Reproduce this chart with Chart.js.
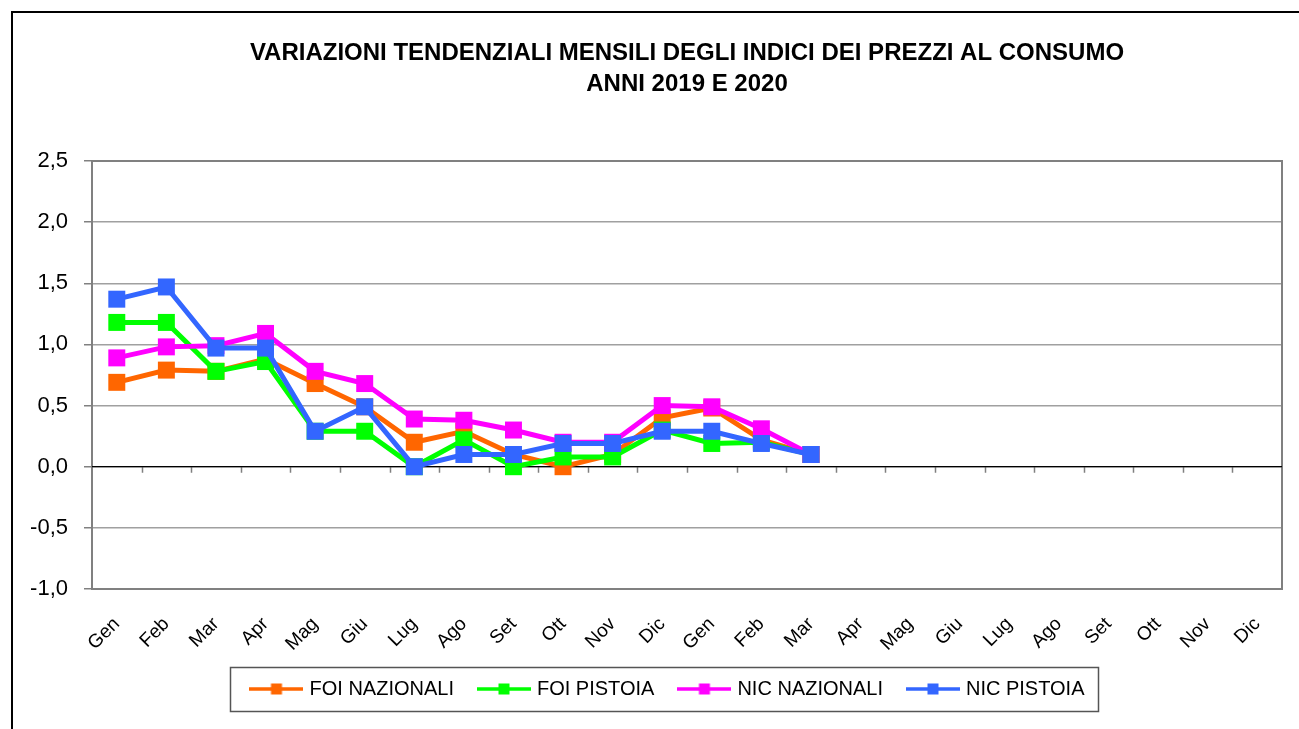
<!DOCTYPE html>
<html>
<head>
<meta charset="utf-8">
<script src="https://cdn.jsdelivr.net/npm/chart.js@4/dist/chart.umd.min.js"></script>
<style>
  html, body { margin: 0; padding: 0; background: #fff; }
  #wrap { position: relative; width: 1299px; height: 729px; overflow: hidden; }
  #frame { position: absolute; left: 11px; top: 11px; width: 1400px; height: 800px; border-top: 2px solid #000; border-left: 2px solid #000; pointer-events: none; }
  canvas { position: absolute; left: 0; top: 0; }
</style>
</head>
<body>
<div id="wrap">
  <canvas id="c" width="1299" height="729"></canvas>
  <div id="frame"></div>
</div>
<script>
const titleLines = ['VARIAZIONI TENDENZIALI MENSILI DEGLI INDICI DEI PREZZI AL CONSUMO', 'ANNI 2019 E 2020'];
const categories = ['Gen','Feb','Mar','Apr','Mag','Giu','Lug','Ago','Set','Ott','Nov','Dic',
                    'Gen','Feb','Mar','Apr','Mag','Giu','Lug','Ago','Set','Ott','Nov','Dic'];
const seriesNames = ['FOI NAZIONALI', 'FOI PISTOIA', 'NIC NAZIONALI', 'NIC PISTOIA'];
const foiNazionali = [0.69, 0.79, 0.78, 0.88, 0.68, 0.49, 0.20, 0.29, 0.10, 0.00, 0.10, 0.40, 0.48, 0.22, 0.10, null, null, null, null, null, null, null, null, null];
const foiPistoia   = [1.18, 1.18, 0.78, 0.86, 0.29, 0.29, 0.00, 0.22, 0.00, 0.08, 0.08, 0.30, 0.19, 0.20, 0.10, null, null, null, null, null, null, null, null, null];
const nicNazionali = [0.89, 0.98, 0.99, 1.09, 0.78, 0.68, 0.39, 0.38, 0.30, 0.20, 0.20, 0.50, 0.49, 0.31, 0.10, null, null, null, null, null, null, null, null, null];
const nicPistoia   = [1.37, 1.47, 0.97, 0.97, 0.29, 0.49, 0.00, 0.10, 0.10, 0.19, 0.19, 0.29, 0.29, 0.19, 0.10, null, null, null, null, null, null, null, null, null];
const yTicks = [-1.0, -0.5, 0.0, 0.5, 1.0, 1.5, 2.0, 2.5];
const seriesColors = ['#FF6600', '#00FF00', '#FF00FF', '#3366FF'];

const FONT = "'Liberation Sans', Arial, sans-serif";

function legendIcon(color) {
  const cv = document.createElement('canvas');
  cv.width = 54; cv.height = 16;
  const g = cv.getContext('2d');
  g.strokeStyle = color; g.lineWidth = 3.5;
  g.beginPath(); g.moveTo(0, 8); g.lineTo(54, 8); g.stroke();
  g.fillStyle = color;
  g.fillRect(21.5, 2.5, 11, 11);
  return cv;
}
const icons = seriesColors.map(legendIcon);

const allSeries = [foiNazionali, foiPistoia, nicNazionali, nicPistoia];
const datasets = allSeries.map((arr, i) => ({
  label: seriesNames[i],
  data: arr,
  borderColor: seriesColors[i],
  backgroundColor: seriesColors[i],
  borderWidth: 5,
  pointStyle: 'rect',
  pointRadius: 12,
  pointHoverRadius: 12,
  pointBorderWidth: 0,
  pointBackgroundColor: seriesColors[i],
  tension: 0,
  spanGaps: false,
  order: 4 - i
}));

const framePlugin = {
  id: 'framePlugin',
  afterLayout(chart) {
    const lg = chart.legend;
    if (lg) { lg.left += 18; lg.right += 18; }
    const tb = chart.titleBlock;
    if (tb) { tb.left += 36; tb.right += 36; }
  },
  beforeDatasetsDraw(chart) {
    const {ctx, chartArea: a, scales: {x, y}} = chart;
    ctx.save();
    const y0 = y.getPixelForValue(0);
    ctx.strokeStyle = '#808080';
    ctx.lineWidth = 1.5;
    ctx.beginPath();
    for (let i = 1; i < categories.length; i++) {
      const px = Math.round(x.getPixelForValue(i - 0.5)) + 0.5;
      ctx.moveTo(px, y0);
      ctx.lineTo(px, y0 + 6);
    }
    ctx.stroke();
    ctx.strokeStyle = '#808080';
    ctx.lineWidth = 2;
    ctx.strokeRect(a.left, a.top, a.right - a.left, a.bottom - a.top);
    ctx.strokeStyle = '#000';
    ctx.lineWidth = 1.2;
    ctx.beginPath();
    ctx.moveTo(a.left, y0); ctx.lineTo(a.right, y0);
    ctx.stroke();
    ctx.restore();
  },
  afterDraw(chart) {
    const lg = chart.legend;
    if (!lg || !lg.legendHitBoxes || !lg.legendHitBoxes.length) return;
    const hb = lg.legendHitBoxes;
    const first = hb[0], last = hb[hb.length - 1];
    const cy = first.top + first.height / 2;
    const left = first.left - 23, right = last.left + last.width + 14;
    const ctx = chart.ctx;
    ctx.save();
    ctx.strokeStyle = '#555';
    ctx.lineWidth = 1.5;
    ctx.strokeRect(Math.round(left) + 0.5, Math.round(cy - 22) + 0.5, Math.round(right - left), 44);
    ctx.restore();
  }
};

new Chart(document.getElementById('c'), {
  type: 'line',
  data: { labels: categories, datasets },
  plugins: [framePlugin],
  options: {
    responsive: false,
    animation: false,
    events: [],
    layout: { padding: { left: 20, right: 17, top: 0, bottom: 20 } },
    plugins: {
      tooltip: { enabled: false },
      title: {
        display: true,
        text: titleLines,
        color: '#000',
        font: { family: FONT, size: 24, weight: 'bold', lineHeight: 1.3 },
        padding: { top: 37.4, bottom: 61.2 }
      },
      legend: {
        position: 'bottom',
        labels: {
          color: '#000',
          font: { family: FONT, size: 20 },
          usePointStyle: true,
          pointStyleWidth: 46,
          padding: 27,
          generateLabels: (chart) => chart.data.datasets.map((ds, i) => ({
            text: ds.label,
            fillStyle: ds.borderColor,
            strokeStyle: ds.borderColor,
            lineWidth: 0,
            pointStyle: icons[i],
            hidden: false,
            datasetIndex: i,
            fontColor: '#000'
          }))
        }
      }
    },
    scales: {
      x: {
        type: 'category',
        offset: true,
        grid: { display: false, drawTicks: false },
        border: { display: false },
        ticks: {
          color: '#000',
          font: { family: FONT, size: 19 },
          maxRotation: 45,
          minRotation: 45,
          autoSkip: false,
          padding: 24
        },
        afterFit(scale) { scale.height = 63; }
      },
      y: {
        min: -1,
        max: 2.5,
        afterBuildTicks(scale) { scale.ticks = yTicks.map(v => ({ value: v })); },
        grid: {
          color: '#a0a0a0',
          lineWidth: 1.5,
          drawTicks: true,
          tickLength: 8,
          tickColor: '#808080'
        },
        border: { display: false },
        ticks: {
          color: '#000',
          font: { family: FONT, size: 22 },
          padding: 16,
          callback: (v) => Number(v).toFixed(1).replace('.', ',')
        },
        afterFit(scale) { scale.width = 72; }
      }
    }
  }
});
</script>
</body>
</html>
